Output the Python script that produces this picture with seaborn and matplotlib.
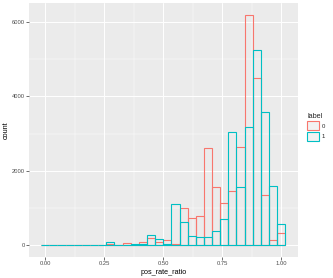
import numpy as np
import pandas as pd
import matplotlib
matplotlib.use("Agg")
import matplotlib.pyplot as plt
import seaborn as sns
from matplotlib.patches import Patch

# ---- data ----
n_bins = 30
bin_centers = np.arange(n_bins) / (n_bins - 1)
counts_label0 = [10, 3, 5, 15, 5, 8, 5, 12, 30, 10, 55, 15, 90, 200, 90, 150, 40,
                 988, 718, 775, 2604, 1550, 1145, 1463, 2647, 6194, 4490, 1346, 126, 332]
counts_label1 = [15, 5, 5, 8, 5, 15, 8, 10, 75, 10, 15, 20, 25, 275, 175, 25, 1100,
                 628, 233, 206, 206, 377, 705, 3043, 1553, 3170, 5260, 3590, 1598, 574]
labels = ["0", "1"]
colors = ["#F8766D", "#00BFC4"]
x_ticks = [0.0, 0.25, 0.5, 0.75, 1.0]
x_tick_labels = ["0.00", "0.25", "0.50", "0.75", "1.00"]
y_ticks = [0, 2000, 4000, 6000]
y_tick_labels = ["0", "2000", "4000", "6000"]

df = pd.DataFrame({
    "pos_rate_ratio": np.concatenate([bin_centers, bin_centers]),
    "count": counts_label0 + counts_label1,
    "label": [labels[0]] * n_bins + [labels[1]] * n_bins,
})

bw = 1 / (n_bins - 1)
brange = (-bw / 2, 1 + bw / 2)

sns.set_theme(style="darkgrid")
plt.rcParams["font.family"] = ["Liberation Sans", "DejaVu Sans"]

fig = plt.figure(figsize=(3.33, 2.78), dpi=100)
ax = fig.add_axes([29 / 333, 1 - 256.7 / 278, (297.7 - 29) / 333, (256.7 - 3) / 278])
ax.set_facecolor("#EBEBEB")

for lab, col in zip(labels, colors):
    sub = df[df["label"] == lab]
    sns.histplot(data=sub, x="pos_rate_ratio", weights="count",
                 binwidth=bw, binrange=brange,
                 fill=False, element="bars", color=col, linewidth=0.8,
                 alpha=1.0, ax=ax)

ax.set_xlim(-0.069, 1.07)
ax.set_ylim(-312, 6514)
ax.set_xticks(x_ticks)
ax.set_xticklabels(x_tick_labels)
ax.set_yticks(y_ticks)
ax.set_yticklabels(y_tick_labels)
ax.set_xticks([0.125, 0.375, 0.625, 0.875], minor=True)
ax.set_yticks([1000, 3000, 5000], minor=True)
ax.grid(which="major", color="white", linewidth=0.7)
ax.grid(which="minor", color="white", linewidth=0.35)
ax.set_axisbelow(True)
for s in ax.spines.values():
    s.set_visible(False)
ax.tick_params(which="major", length=2, width=0.5, color="#333333",
               labelsize=4.2, labelcolor="#4D4D4D", pad=1, bottom=True, left=True)
ax.tick_params(which="minor", length=0)
ax.set_xlabel("pos_rate_ratio", fontsize=5.2, color="black", labelpad=2)
ax.set_ylabel("count", fontsize=5.2, color="black", labelpad=1.5)

handles = [Patch(facecolor="#F2F2F2", edgecolor=c, linewidth=0.8, label=l)
           for l, c in zip(labels, colors)]
leg = fig.legend(handles=handles, title="label", loc="upper left",
                 bbox_to_anchor=(307 / 333, 1 - 113 / 278), frameon=False,
                 fontsize=4.3, title_fontsize=5.2, handlelength=2.0,
                 handleheight=2.0, labelspacing=0.2, handletextpad=0.4,
                 borderpad=0, borderaxespad=0)
leg._legend_box.align = "left"

fig.savefig("out.png", dpi=100)
